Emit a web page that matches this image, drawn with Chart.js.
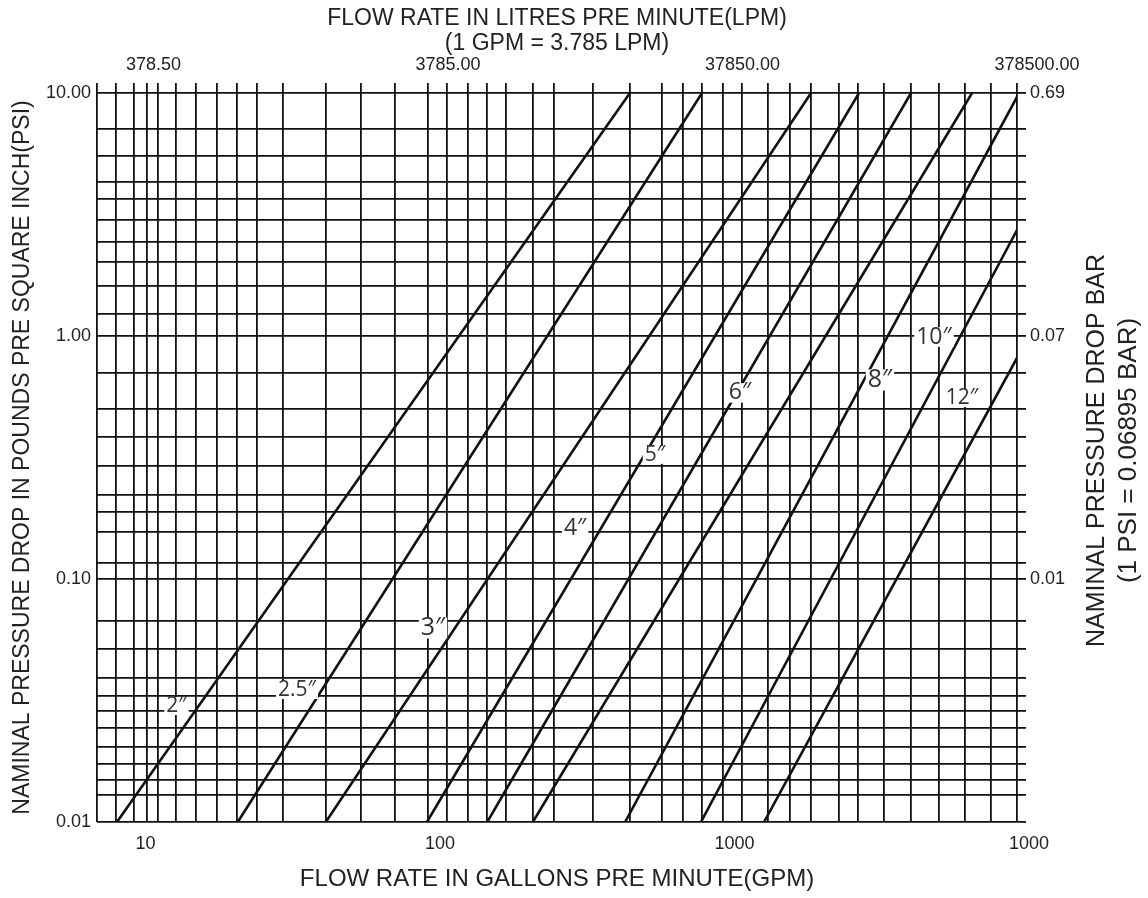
<!DOCTYPE html>
<html>
<head>
<meta charset="utf-8">
<title>Pressure drop vs flow rate</title>
<script src="https://cdn.jsdelivr.net/npm/chart.js@4.4.1/dist/chart.umd.min.js"></script>
<style>
  html, body { margin: 0; padding: 0; background: #fff; }
  #wrap { width: 1148px; height: 898px; }
</style>
</head>
<body>
<div id="wrap"><canvas id="chart" width="1148" height="898"></canvas></div>
<script>
// axis ranges (GPM across, PSI up)
const gpmMin = 7.52, gpmMax = 10000;
const psiMin = 0.01, psiMax = 10;

// vertical grid lines, GPM (they are not regular)
const gpmGrid = [7.52, 8.72, 10, 11.1, 12.1, 13.9, 16.3, 19.2, 22.5, 26.3, 32.2, 45.0, 59.2, 77.3,
  100, 116, 137, 159, 184, 227, 268, 363, 485, 623, 734, 852,
  1000, 1165, 1427, 1695, 1998, 2487, 2885, 3535, 4366, 5434, 6659, 8161, 10000];

// horizontal grid lines, PSI
const psiGrid = [0.01, 0.0129, 0.0149, 0.0173, 0.0204, 0.0244, 0.0286, 0.0330, 0.0391, 0.0515, 0.0672,
  0.1, 0.116, 0.156, 0.189, 0.222, 0.292, 0.384, 0.501, 0.704,
  1, 1.23, 1.61, 2.02, 2.44, 3.00, 3.66, 4.30, 5.51, 7.11, 10];

// tick labels
const gpmLabelAt = [10, 100, 1000, 10000];
const gpmLabels = ['10', '100', '1000', '1000'];
const lpmLabels = ['378.50', '3785.00', '37850.00', '378500.00'];
const psiLabelAt = [10, 1, 0.1, 0.01];
const psiLabels = ['10.00', '1.00', '0.10', '0.01'];
const barLabelAt = [10, 1, 0.1];
const barLabels = ['0.69', '0.07', '0.01'];

// one straight line per pipe size: start and end point
const pipeSizes = ['2″', '2.5″', '3″', '4″', '5″', '6″', '8″', '10″', '12″'];
const flowLow = [8.79, 22.6, 45.0, 99.2, 159, 227, 467, 845, 1384];
const psiLow = [0.01, 0.01, 0.01, 0.01, 0.01, 0.01, 0.01, 0.01, 0.01];
const flowHigh = [485, 852, 1998, 2907, 4366, 7036, 10000, 10000, 10000];
const psiHigh = [10, 10, 10, 10, 10, 10, 9.63, 2.73, 0.812];

// where the size labels sit
const labelFlow = [14.0, 35.9, 104, 316, 590, 1147, 3426, 5226, 6501];
const labelPsi = [0.030, 0.0349, 0.0629, 0.162, 0.324, 0.583, 0.659, 0.99, 0.556];
const labelSize = [21, 21, 25, 23, 21, 23, 25, 23, 21];

const FONT = "'Liberation Sans', Arial, sans-serif";
const INK = '#111';

function labelFor(v, at, labels) {
    const i = at.findIndex(a => Math.abs(v - a) / a < 1e-6);
    return i < 0 ? '' : labels[i];
}

const pipeLabels = {
    id: 'pipeLabels',
    afterDatasetsDraw(chart) {
        const { ctx, scales: { x, y } } = chart;
        ctx.save();
        ctx.textAlign = 'center';
        ctx.textBaseline = 'middle';
        pipeSizes.forEach((txt, i) => {
            const px = x.getPixelForValue(labelFlow[i]);
            const py = y.getPixelForValue(labelPsi[i]);
            ctx.font = labelSize[i] + "px 'Open Sans', sans-serif";
            const w = ctx.measureText(txt).width;
            const h = labelSize[i] * 0.85;
            ctx.fillStyle = '#fff';
            ctx.fillRect(px - w / 2 - 2, py - h / 2, w + 4, h);
            ctx.fillStyle = '#333';
            ctx.fillText(txt, px, py);
        });
        ctx.restore();
    }
};

// right-hand titles read bottom-to-top, Chart.js would turn them the other way
const rightTitles = {
    id: 'rightTitles',
    afterDraw(chart) {
        const { ctx, chartArea } = chart;
        const cy = (chartArea.top + chartArea.bottom) / 2 - 7;
        ctx.save();
        ctx.fillStyle = '#222';
        ctx.textAlign = 'center';
        ctx.textBaseline = 'middle';
        [['NAMINAL PRESSURE DROP BAR', 80, 25], ['(1 PSI = 0.06895 BAR)', 112, 26]].forEach(([t, dx, size]) => {
            ctx.save();
            ctx.font = size + 'px ' + FONT;
            ctx.translate(chartArea.right + dx, cy);
            ctx.rotate(-Math.PI / 2);
            ctx.fillText(t, 0, 0);
            ctx.restore();
        });
        ctx.restore();
    }
};

const gridStyle = { color: INK, lineWidth: 1.8 };

new Chart(document.getElementById('chart'), {
    type: 'scatter',
    data: {
        datasets: pipeSizes.map((name, i) => ({
            label: name,
            data: [{ x: flowLow[i], y: psiLow[i] }, { x: flowHigh[i], y: psiHigh[i] }],
            showLine: true,
            borderColor: INK,
            borderWidth: 2.6,
            pointRadius: 0,
            xAxisID: 'x',
            yAxisID: 'y'
        }))
    },
    options: {
        responsive: false,
        animation: false,
        layout: { padding: 0 },
        plugins: { legend: { display: false }, tooltip: { enabled: false } },
        scales: {
            x: {
                type: 'logarithmic', position: 'bottom', min: gpmMin, max: gpmMax,
                afterBuildTicks: s => { s.ticks = gpmGrid.map(v => ({ value: v })); },
                afterFit: s => { s.height = 76; },
                grid: { ...gridStyle, drawTicks: false },
                border: { display: false },
                ticks: {
                    autoSkip: false, maxRotation: 0, padding: 11, labelOffset: 12, color: '#222',
                    font: { family: FONT, size: 18 },
                    callback: v => labelFor(v, gpmLabelAt, gpmLabels)
                },
                title: {
                    display: true, text: 'FLOW RATE IN GALLONS PRE MINUTE(GPM)', color: '#222',
                    font: { family: FONT, size: 24 }, padding: { top: 0, bottom: 4 }
                }
            },
            x2: {
                type: 'logarithmic', position: 'top', min: gpmMin, max: gpmMax,
                afterBuildTicks: s => { s.ticks = gpmGrid.map(v => ({ value: v })); },
                afterFit: s => { s.height = 93; },
                grid: { ...gridStyle, drawOnChartArea: false, drawTicks: true, tickLength: 10 },
                border: { display: false },
                ticks: {
                    autoSkip: false, maxRotation: 0, padding: 7, labelOffset: 20, color: '#222',
                    font: { family: FONT, size: 18 },
                    callback: v => labelFor(v, gpmLabelAt, lpmLabels)
                },
                title: {
                    display: true, color: '#222',
                    text: ['FLOW RATE IN LITRES PRE MINUTE(LPM)', '(1 GPM = 3.785 LPM)'],
                    font: { family: FONT, size: 23, lineHeight: 1.05 }, padding: { top: 7, bottom: 0 }
                }
            },
            y: {
                type: 'logarithmic', position: 'left', min: psiMin, max: psiMax,
                afterBuildTicks: s => { s.ticks = psiGrid.map(v => ({ value: v })); },
                afterFit: s => { s.width = 97; },
                grid: { ...gridStyle, drawTicks: false },
                border: { display: false },
                ticks: {
                    autoSkip: false, padding: 6, color: '#222',
                    font: { family: FONT, size: 18 },
                    callback: v => labelFor(v, psiLabelAt, psiLabels)
                },
                title: {
                    display: true, color: '#222',
                    text: 'NAMINAL PRESSURE DROP IN POUNDS PRE SQUARE INCH(PSI)',
                    font: { family: FONT, size: 23 }, padding: { top: 9, bottom: 0 }
                }
            },
            y2: {
                type: 'logarithmic', position: 'right', min: psiMin, max: psiMax,
                afterBuildTicks: s => { s.ticks = psiGrid.map(v => ({ value: v })); },
                afterFit: s => { s.width = 131; },
                grid: { ...gridStyle, drawOnChartArea: false, drawTicks: true, tickLength: 9 },
                border: { display: false },
                ticks: {
                    autoSkip: false, padding: 4, color: '#222',
                    font: { family: FONT, size: 18 },
                    callback: v => labelFor(v, barLabelAt, barLabels)
                }
            }
        }
    },
    plugins: [pipeLabels, rightTitles]
});
</script>
</body>
</html>
